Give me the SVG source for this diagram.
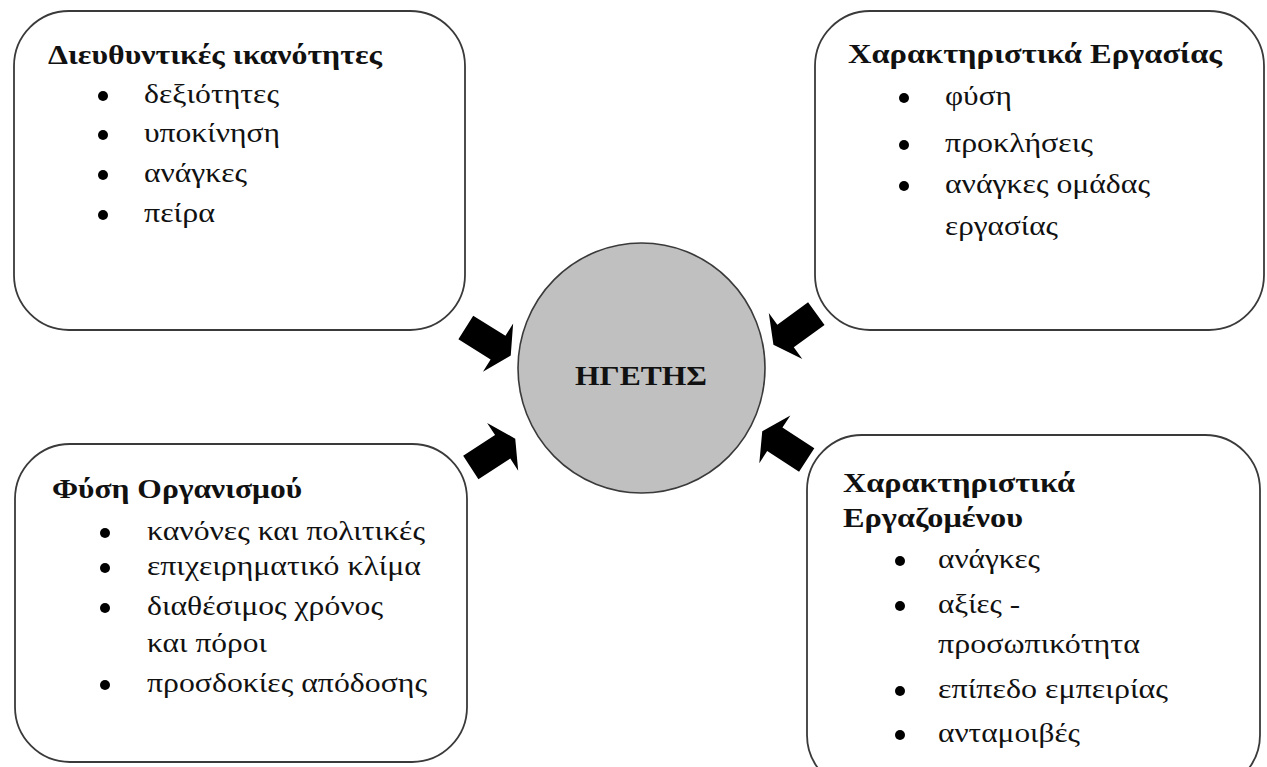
<svg xmlns="http://www.w3.org/2000/svg" width="1267" height="767" viewBox="0 0 1267 767">
<style>
.box{fill:#fff;stroke:#3a3a3a;stroke-width:1.8}
.t{font-family:"Liberation Serif","Times New Roman",serif;font-size:27px;fill:#111}
.b{font-weight:bold}
.dot{fill:#000}
.arr{fill:#000}
</style>
<defs>
<path id="ar" d="M0,-14 L38,-14 L38,-28.5 L53,0 L38,28.5 L38,14 L0,14 Z"/>
</defs>
<rect width="1267" height="767" fill="#fff"/>
<g id="connectors">
<use href="#ar" class="arr" transform="translate(465.8,327.5) rotate(32)"/>
<use href="#ar" class="arr" transform="translate(816.3,313.7) rotate(144)"/>
<use href="#ar" class="arr" transform="translate(470.8,467.5) rotate(-33)"/>
<use href="#ar" class="arr" transform="translate(806.7,460) rotate(-147)"/>
</g>
<g id="leader">
<ellipse cx="641.5" cy="368" rx="123.5" ry="125" fill="#c0c0c0" stroke="#3a3a3a" stroke-width="1.6"/>
<text class="t b" x="575" y="385" font-size="31" textLength="132" lengthAdjust="spacingAndGlyphs">ΗΓΕΤΗΣ</text>
</g>
<g id="box-management">
<rect class="box" x="14" y="11" width="451" height="319" rx="55"/>
<text class="t b" x="48" y="64" textLength="334" lengthAdjust="spacingAndGlyphs">Διευθυντικές ικανότητες</text>
<circle class="dot" cx="103" cy="96" r="5"/><text class="t" x="144" y="103" textLength="135" lengthAdjust="spacingAndGlyphs">δεξιότητες</text>
<circle class="dot" cx="103" cy="135" r="5"/><text class="t" x="144" y="142" textLength="136" lengthAdjust="spacingAndGlyphs">υποκίνηση</text>
<circle class="dot" cx="103" cy="175" r="5"/><text class="t" x="144" y="182" textLength="103" lengthAdjust="spacingAndGlyphs">ανάγκες</text>
<circle class="dot" cx="103" cy="215" r="5"/><text class="t" x="144" y="222" textLength="71" lengthAdjust="spacingAndGlyphs">πείρα</text>
</g>
<g id="box-work">
<rect class="box" x="815" y="11" width="449" height="319" rx="55"/>
<text class="t b" x="848" y="63" textLength="374" lengthAdjust="spacingAndGlyphs">Χαρακτηριστικά Εργασίας</text>
<circle class="dot" cx="904" cy="98" r="5"/><text class="t" x="945" y="105" textLength="67" lengthAdjust="spacingAndGlyphs">φύση</text>
<circle class="dot" cx="904" cy="145" r="5"/><text class="t" x="945" y="152" textLength="148" lengthAdjust="spacingAndGlyphs">προκλήσεις</text>
<circle class="dot" cx="904" cy="186" r="5"/><text class="t" x="945" y="193" textLength="205" lengthAdjust="spacingAndGlyphs">ανάγκες ομάδας</text>
<text class="t" x="945" y="235" textLength="113" lengthAdjust="spacingAndGlyphs">εργασίας</text>
</g>
<g id="box-organisation">
<rect class="box" x="15" y="444" width="452" height="318" rx="55"/>
<text class="t b" x="52" y="498" textLength="250" lengthAdjust="spacingAndGlyphs">Φύση Οργανισμού</text>
<circle class="dot" cx="105" cy="533" r="5"/><text class="t" x="147" y="540" textLength="278" lengthAdjust="spacingAndGlyphs">κανόνες και πολιτικές</text>
<circle class="dot" cx="105" cy="568" r="5"/><text class="t" x="147" y="575" textLength="274" lengthAdjust="spacingAndGlyphs">επιχειρηματικό κλίμα</text>
<circle class="dot" cx="105" cy="608" r="5"/><text class="t" x="147" y="615" textLength="236" lengthAdjust="spacingAndGlyphs">διαθέσιμος χρόνος</text>
<text class="t" x="147" y="652" textLength="120" lengthAdjust="spacingAndGlyphs">και πόροι</text>
<circle class="dot" cx="105" cy="685" r="5"/><text class="t" x="147" y="692" textLength="280" lengthAdjust="spacingAndGlyphs">προσδοκίες απόδοσης</text>
</g>
<g id="box-employee">
<rect class="box" x="807" y="435" width="453" height="355" rx="55"/>
<text class="t b" x="843" y="492" textLength="232" lengthAdjust="spacingAndGlyphs">Χαρακτηριστικά</text>
<text class="t b" x="843" y="527" textLength="180" lengthAdjust="spacingAndGlyphs">Εργαζομένου</text>
<circle class="dot" cx="900" cy="561" r="5"/><text class="t" x="938" y="568" textLength="102" lengthAdjust="spacingAndGlyphs">ανάγκες</text>
<circle class="dot" cx="900" cy="606" r="5"/><text class="t" x="938" y="613" textLength="82" lengthAdjust="spacingAndGlyphs">αξίες -</text>
<text class="t" x="938" y="653" textLength="202" lengthAdjust="spacingAndGlyphs">προσωπικότητα</text>
<circle class="dot" cx="900" cy="691" r="5"/><text class="t" x="938" y="698" textLength="230" lengthAdjust="spacingAndGlyphs">επίπεδο εμπειρίας</text>
<circle class="dot" cx="900" cy="735" r="5"/><text class="t" x="938" y="742" textLength="142" lengthAdjust="spacingAndGlyphs">ανταμοιβές</text>
</g>
</svg>
